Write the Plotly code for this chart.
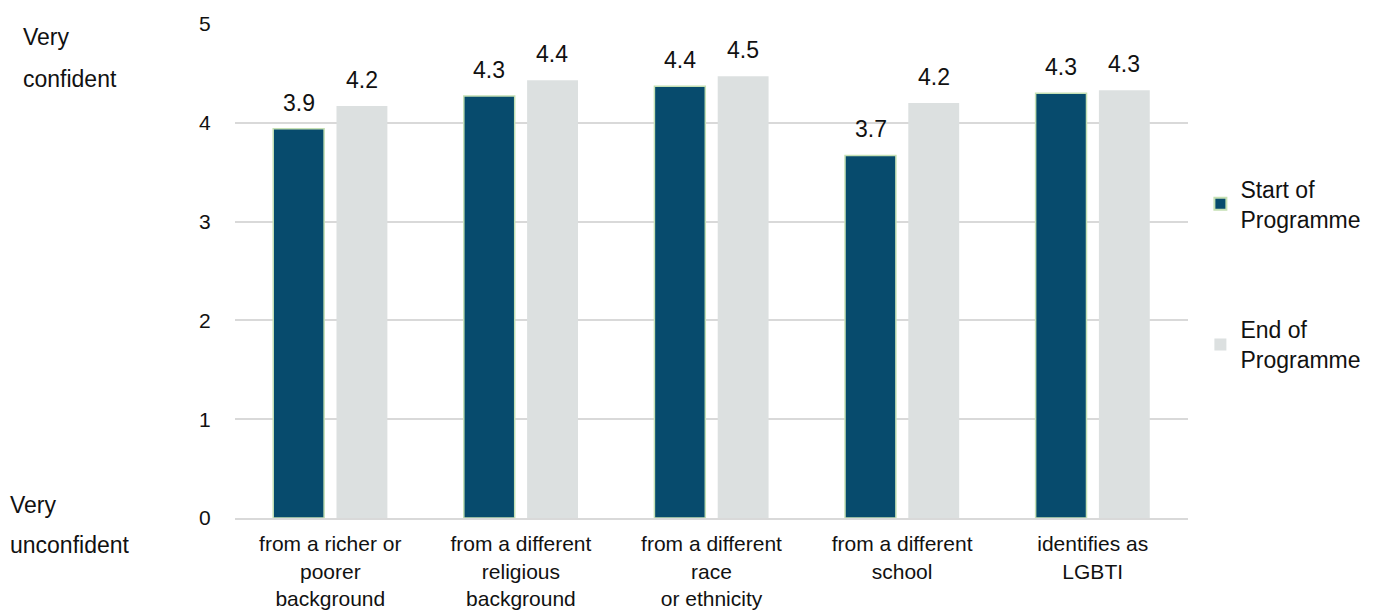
import plotly.graph_objects as go

categories = [
    "from a richer or<br>poorer<br>background",
    "from a different<br>religious<br>background",
    "from a different<br>race<br>or ethnicity",
    "from a different<br>school",
    "identifies as<br>LGBTI",
]
start_values = [3.94, 4.27, 4.37, 3.67, 4.30]
end_values = [4.17, 4.43, 4.47, 4.20, 4.33]
series_names = ["Start of<br>Programme", "End of<br>Programme"]
y_ticks = [0, 1, 2, 3, 4, 5]

FONT = "Liberation Sans, Arial, sans-serif"
DARK = "#074B6D"
LIGHT = "#DCE0E0"
EDGE = "#C5E0B4"
TEXT = "#111111"

fig = go.Figure()
fig.add_trace(go.Bar(
    x=categories, y=start_values, name=series_names[0],
    marker=dict(color=DARK, line=dict(color=EDGE, width=1.5)),
    legendgroup="a",
))
fig.add_trace(go.Bar(
    x=categories, y=end_values, name=series_names[1],
    marker=dict(color=LIGHT, line=dict(color=LIGHT, width=0)),
    legendgroup="b",
))

# value labels above each bar, offset to the grouped bar centres
for vals, shift in ((start_values, -31.5), (end_values, 31.5)):
    for cat, v in zip(categories, vals):
        fig.add_annotation(
            x=cat, y=v, xref="x", yref="y", text=f"{v:.1f}",
            showarrow=False, yanchor="bottom", xshift=shift, yshift=11,
            font=dict(family=FONT, size=23, color=TEXT),
        )

# scale end descriptions on the left, one line per annotation
side_labels = [
    ("Very", -0.225, 0.973),
    ("confident", -0.225, 0.889),
    ("Very", -0.238, 0.027),
    ("unconfident", -0.238, -0.055),
]
for txt, px, py in side_labels:
    fig.add_annotation(xref="paper", yref="paper", x=px, y=py, xanchor="left", yanchor="middle",
                       text=txt, showarrow=False,
                       font=dict(family=FONT, size=23, color=TEXT))

fig.update_layout(
    width=1378, height=612,
    margin=dict(l=235, r=188, t=24, b=94),
    paper_bgcolor="white", plot_bgcolor="white",
    barmode="group", bargap=0.336, bargroupgap=0.196,
    font=dict(family=FONT, size=22, color=TEXT),
    showlegend=True,
    legend=dict(
        x=1.013, y=0.71, xanchor="left", yanchor="top",
        font=dict(family=FONT, size=23, color=TEXT),
        tracegroupgap=78, traceorder="grouped",
        itemsizing="constant", bgcolor="rgba(0,0,0,0)",
    ),
    xaxis=dict(
        automargin=False,
        showgrid=False, showline=True, linecolor="#D9D9D9", linewidth=2,
        ticks="outside", ticklen=6, tickcolor="rgba(0,0,0,0)",
        tickfont=dict(family=FONT, size=21, color=TEXT),
    ),
    yaxis=dict(
        automargin=False,
        range=[0, 5], tickvals=y_ticks, showgrid=True, gridcolor="#D9D9D9", gridwidth=2,
        zeroline=False, showline=False,
        ticks="outside", ticklen=19, tickcolor="rgba(0,0,0,0)",
        tickfont=dict(family=FONT, size=21, color=TEXT),
    ),
)

fig.write_html("out.html")
